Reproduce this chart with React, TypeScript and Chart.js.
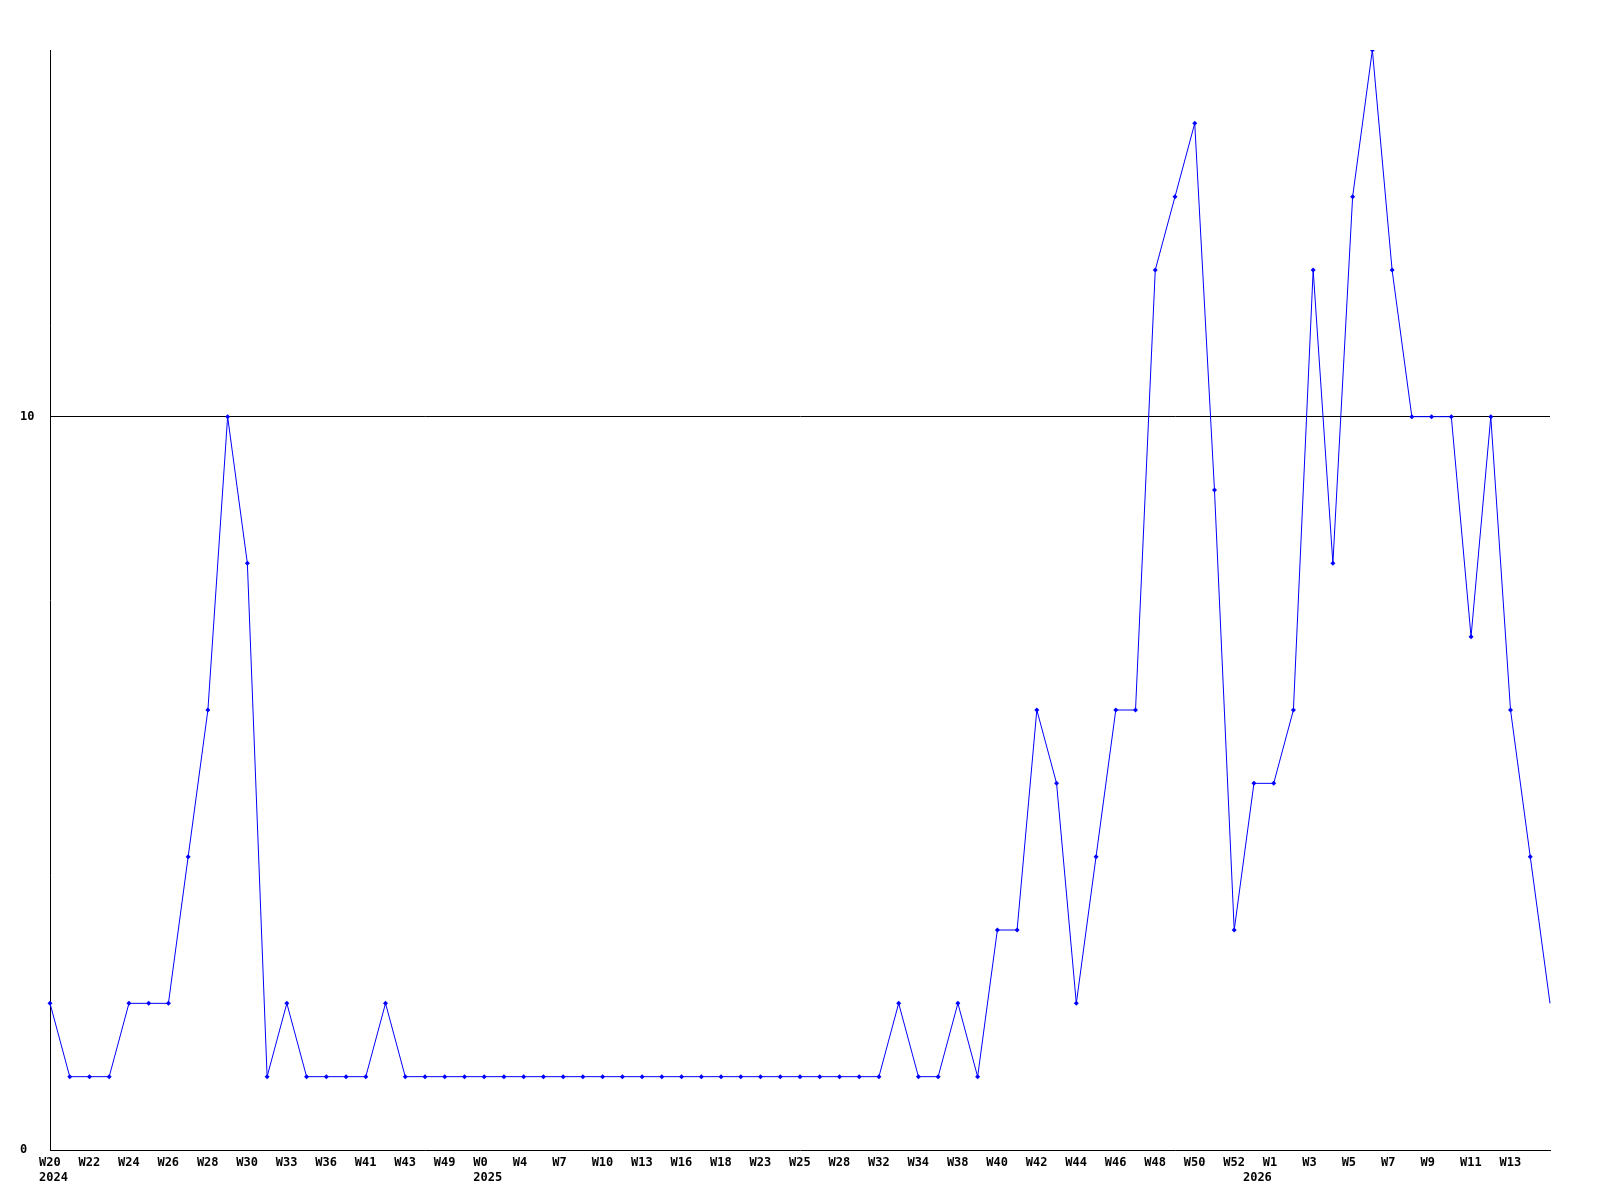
import React, { useEffect, useRef } from "react";
import { Chart, registerables } from "chart.js";

Chart.register(...registerables);

const weeks: string[] = [
  "W20", "W21", "W22", "W23", "W24", "W25", "W26", "W27", "W28", "W29",
  "W30", "W31", "W33", "W34", "W36", "W38", "W41", "W42", "W43", "W46",
  "W49", "W51", "W0", "W2", "W4", "W5", "W7", "W8", "W10", "W11",
  "W13", "W14", "W16", "W17", "W18", "W20", "W23", "W24", "W25", "W26",
  "W28", "W30", "W32", "W33", "W34", "W36", "W38", "W39", "W40", "W41",
  "W42", "W43", "W44", "W45", "W46", "W47", "W48", "W49", "W50", "W51",
  "W52", "W0", "W1", "W2", "W3", "W4", "W5", "W6", "W7", "W8",
  "W9", "W10", "W11", "W12", "W13", "W14", "W15",
];

const yearStartIndex: number[] = [0, 22, 61];
const yearLabels: string[] = ["2024", "2025", "2026"];

const counts: number[] = [
  2, 1, 1, 1, 2, 2, 2, 4, 6, 10,
  8, 1, 2, 1, 1, 1, 1, 2, 1, 1,
  1, 1, 1, 1, 1, 1, 1, 1, 1, 1,
  1, 1, 1, 1, 1, 1, 1, 1, 1, 1,
  1, 1, 1, 2, 1, 1, 2, 1, 3, 3,
  6, 5, 2, 4, 6, 6, 12, 13, 14, 9,
  3, 5, 5, 6, 12, 8, 13, 15, 12, 10,
  10, 10, 7, 10, 6, 4, 2,
];

const yTickValues: number[] = [0, 10];
const yMax = 15;

const FONT = { family: '"DejaVu Sans Mono", "Liberation Mono", monospace', size: 12, weight: "bold" as const, lineHeight: 1.25 };

export default function App() {
  const ref = useRef<HTMLCanvasElement | null>(null);

  useEffect(() => {
    if (!ref.current) return;
    const n = counts.length;
    const chart = new Chart(ref.current, {
      type: "line",
      data: {
        labels: weeks,
        datasets: [
          {
            data: counts,
            borderColor: "#0000ff",
            backgroundColor: "#0000ff",
            borderWidth: 1,
            tension: 0,
            fill: false,
            pointStyle: "rectRot",
            pointRadius: counts.map((_, i) => (i === n - 1 ? 0 : 2.5)),
            pointBorderWidth: 0,
            pointBackgroundColor: "#0000ff",
          },
        ],
      },
      options: {
        responsive: false,
        animation: false,
        layout: { padding: { left: 20, right: 50, top: 50, bottom: 15 } },
        plugins: { legend: { display: false }, tooltip: { enabled: false } },
        scales: {
          x: {
            offset: false,
            grid: { color: "rgba(0,0,0,0)", drawTicks: false },
            border: { display: true, color: "#000", width: 1 },
            ticks: {
              autoSkip: false,
              maxRotation: 0,
              minRotation: 0,
              padding: 5,
              align: "start",
              labelOffset: -11,
              color: "#000",
              font: FONT,
              callback: (_v: any, i: number) => {
                const showWeek = i % 2 === 0 && i < n - 1;
                const yi = yearStartIndex.indexOf(i);
                const line1 = showWeek ? weeks[i] : "";
                if (yi >= 0) return [line1, yearLabels[yi]];
                return line1;
              },
            },
            afterFit: (s: any) => {
              s.height = 35;
            },
          },
          y: {
            min: 0,
            max: yMax,
            grid: {
              drawTicks: false,
              color: (ctx: any) => (ctx.tick && ctx.tick.value === 10 ? "#000" : "rgba(0,0,0,0)"),
              lineWidth: 1,
            },
            border: { display: true, color: "#000", width: 1 },
            afterBuildTicks: (s: any) => {
              s.ticks = yTickValues.map((v) => ({ value: v }));
            },
            ticks: {
              crossAlign: "far",
              color: "#000",
              font: FONT,
              padding: 3,
            },
            afterFit: (s: any) => {
              s.width = 30;
            },
          },
        },
      },
    });
    return () => chart.destroy();
  }, []);

  return (
    <canvas
      ref={ref}
      width={1600}
      height={1200}
      style={{ position: "fixed", left: 0, top: 0, width: 1600, height: 1200, background: "#fff" }}
    />
  );
}
